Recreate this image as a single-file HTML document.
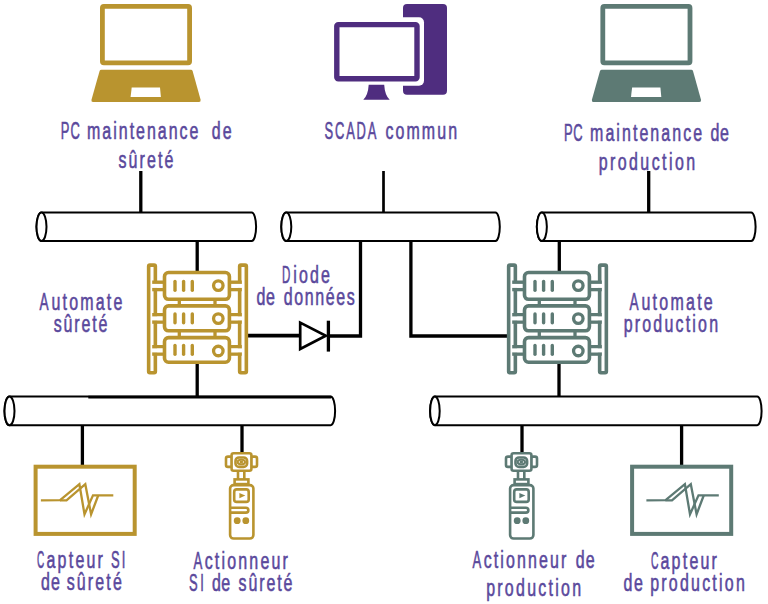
<!DOCTYPE html>
<html><head><meta charset="utf-8">
<style>
html,body{margin:0;padding:0;background:#fff;}
body{width:768px;height:604px;overflow:hidden;}
svg{display:block;}
text{font-family:"Liberation Sans",sans-serif;font-size:23.5px;fill:#5a489c;stroke:#5a489c;stroke-width:0.6px;}
</style></head><body>
<svg width="768" height="604" viewBox="0 0 768 604">
<rect width="768" height="604" fill="#fff"/>
<defs>
<g id="laptop">
  <rect x="102.4" y="6.4" width="87.2" height="56.4" rx="1.5" fill="none" stroke-width="4.8"/>
  <path d="M101.5 69.8 L191 69.8 Q192.2 69.8 192.6 71 L200.6 99.8 Q201 102 199 102 L93 102 Q91 102 91.5 99.8 L99.6 71 Q100 69.8 101.5 69.8 Z" stroke="none"/>
  <path d="M131.7 87.4 L160 87.4 L160.9 96.9 L130.6 96.9 Z" fill="#fff" stroke="none"/>
</g>

<g id="server">
  <g fill="none" stroke-width="3.6">
    <rect x="148.65" y="265.1" width="6.7" height="107.7" rx="1.2"/>
    <rect x="239.65" y="265.1" width="6.7" height="107.7" rx="1.2"/>
    <!-- left connectors -->
    <rect x="154" y="282.3" width="11" height="7.2"/>
    <rect x="154" y="314.8" width="11" height="7.2"/>
    <rect x="154" y="346.8" width="11" height="7.2"/>
    <!-- right connectors -->
    <rect x="229" y="282.3" width="11" height="7.2"/>
    <rect x="229" y="314.8" width="11" height="7.2"/>
    <rect x="229" y="346.8" width="11" height="7.2"/>
  </g>
  <g fill="#fff" stroke="none">
    <rect x="152" y="283.9" width="12" height="4"/>
    <rect x="152" y="316.4" width="12" height="4"/>
    <rect x="152" y="348.4" width="12" height="4"/>
    <rect x="231" y="283.9" width="12.9" height="4"/>
    <rect x="231" y="316.4" width="12.9" height="4"/>
    <rect x="231" y="348.4" width="12.9" height="4"/>
  </g>
  <g fill="#fff" stroke-width="3.6">
    <rect x="164.5" y="272.5" width="64.9" height="26.8" rx="4"/>
    <rect x="164.5" y="305.9" width="64.9" height="24.9" rx="4"/>
    <rect x="164.5" y="337.6" width="64.9" height="24.6" rx="4"/>
  </g>
  <g stroke-width="3.3" fill="none">
    <line x1="179.3" y1="300.5" x2="179.3" y2="305"/>
    <line x1="215" y1="300.5" x2="215" y2="305"/>
    <line x1="179.3" y1="332" x2="179.3" y2="336.6"/>
    <line x1="215" y1="332" x2="215" y2="336.6"/>
  </g>
  <g stroke-width="3.4" stroke-linecap="round" fill="none">
    <line x1="175" y1="281.5" x2="175" y2="290.3"/>
    <line x1="183.6" y1="281.5" x2="183.6" y2="290.3"/>
    <line x1="192.3" y1="281.5" x2="192.3" y2="290.3"/>
    <line x1="175" y1="313.9" x2="175" y2="322.7"/>
    <line x1="183.6" y1="313.9" x2="183.6" y2="322.7"/>
    <line x1="192.3" y1="313.9" x2="192.3" y2="322.7"/>
    <line x1="175" y1="345.5" x2="175" y2="354.3"/>
    <line x1="183.6" y1="345.5" x2="183.6" y2="354.3"/>
    <line x1="192.3" y1="345.5" x2="192.3" y2="354.3"/>
    <circle cx="218.3" cy="285.6" r="4.75" stroke-width="3.3"/>
    <circle cx="218.3" cy="318.6" r="4.75" stroke-width="3.3"/>
    <circle cx="218.3" cy="351" r="4.75" stroke-width="3.3"/>
  </g>
</g>
<g id="capteur">
  <rect x="35.6" y="466.7" width="99.1" height="67.2" fill="none" stroke-width="4"/>
</g>
<g id="wave" fill="none" stroke-width="2.3" stroke-linejoin="miter">
  <polyline points="40.9,500.3 60.1,500.2 79.4,484.2 84.5,514.3 93,495.3 113.3,495.3"/>
  <polyline points="60,500.4 66.5,500.4 85.3,484.2 91.1,514.3 98.2,495.5"/>
</g>
<g id="actuator" stroke-width="2.6">
  <rect x="226" y="456.6" width="6" height="10.3" rx="2" fill="#fff"/>
  <rect x="251" y="456.6" width="6" height="10.3" rx="2" fill="#fff"/>
  <rect x="231.6" y="453.2" width="19.8" height="17.6" rx="2" fill="#fff"/>
  <rect x="235.5" y="457.5" width="11.6" height="9.4" rx="3.5" fill="none"/>
  <ellipse cx="241.3" cy="462" rx="3.7" ry="2.3" fill="none" stroke-width="2.1"/>
  <ellipse cx="241.3" cy="462" rx="1.9" ry="1.3" stroke="none"/>
  <line x1="238" y1="471" x2="238" y2="479" />
  <line x1="244.3" y1="471" x2="244.3" y2="479" />
  <rect x="234.6" y="479.4" width="13.8" height="4.7" fill="#fff"/>
  <rect x="230.1" y="485.1" width="23.3" height="53.4" rx="3.5" fill="#fff"/>
  <rect x="234.2" y="489.4" width="14.5" height="12.5" rx="2.5" fill="none"/>
  <path d="M239.4 492.9 L239.4 498.3 L245.3 495.6 Z" stroke="none"/>
  <path d="M230.1 507.7 H245.9 A2.45 2.45 0 0 1 245.9 512.6 H230.1" fill="none"/>
  <circle cx="237.2" cy="520.7" r="3.4" stroke="none"/>
  <circle cx="245.8" cy="520.7" r="3.4" stroke="none"/>
</g>

</defs>

<!-- laptops -->
<g fill="#b9942f" stroke="#b9942f"><use href="#laptop"/></g>
<g fill="#5d7a74" stroke="#5d7a74" transform="translate(500.4 0)"><use href="#laptop"/></g>

<!-- SCADA -->
<g fill="#4f2d7f">
  <rect x="403" y="4" width="44" height="90.7" rx="4"/>
  <rect x="329.5" y="17.2" width="94.5" height="68.5" rx="5" fill="#fff"/>
  <rect x="336.8" y="24.6" width="80.2" height="54.2" rx="1.5" fill="none" stroke="#4f2d7f" stroke-width="5.4"/>
  <path d="M368.7 84.7 L384.2 84.7 Q384.8 95 389.7 99.8 L363.3 99.8 Q368.1 95 368.7 84.7 Z"/>
</g>

<!-- connection lines -->
<g stroke="#000" fill="none" stroke-width="3.3">
  <line x1="140.8" y1="171" x2="140.8" y2="212"/>
  <line x1="383.5" y1="171" x2="383.5" y2="212" stroke-width="2.7"/>
  <line x1="648.7" y1="171" x2="648.7" y2="212"/>
  <line x1="197.2" y1="241" x2="197.2" y2="272"/>
  <line x1="197.2" y1="364" x2="197.2" y2="397"/>
  <line x1="559.3" y1="241" x2="559.3" y2="272"/>
  <line x1="559" y1="364" x2="559" y2="397"/>
  <polyline points="360.5,241 360.5,336 329,336"/>
  <polyline points="410.9,241 410.9,336 508,336"/>
  <line x1="248" y1="335.6" x2="299" y2="335.6" stroke-width="3.8"/>
  <line x1="82.4" y1="425" x2="82.4" y2="465"/>
  <line x1="242" y1="425" x2="242" y2="452"/>
  <line x1="522" y1="425" x2="522" y2="452"/>
  <line x1="681.6" y1="425" x2="681.6" y2="465"/>
</g>

<!-- cylinders -->
<g stroke="#000" stroke-width="2" fill="#fff">
  <path d="M41.50 212.60 L251.70 212.60 A4.40 14.20 0 0 1 251.70 241.00 L41.50 241.00 A5.00 14.20 0 0 1 41.50 212.60 Z"/>
  <ellipse cx="41.50" cy="226.80" rx="5.00" ry="14.20"/>
  <path d="M286.30 212.60 L495.40 212.60 A4.40 14.20 0 0 1 495.40 241.00 L286.30 241.00 A5.00 14.20 0 0 1 286.30 212.60 Z"/>
  <ellipse cx="286.30" cy="226.80" rx="5.00" ry="14.20"/>
  <path d="M541.85 212.60 L751.20 212.60 A4.40 14.20 0 0 1 751.20 241.00 L541.85 241.00 A5.00 14.20 0 0 1 541.85 212.60 Z"/>
  <ellipse cx="541.85" cy="226.80" rx="5.00" ry="14.20"/>
  <path d="M9.50 396.50 L330.70 396.50 A4.40 14.40 0 0 1 330.70 425.30 L9.50 425.30 A5.00 14.40 0 0 1 9.50 396.50 Z"/>
  <ellipse cx="9.50" cy="410.90" rx="5.00" ry="14.40"/>
  <line x1="88.3" y1="397.1" x2="331" y2="397.1" stroke-width="2.6"/>
  <path d="M434.90 396.60 L757.20 396.60 A4.40 14.30 0 0 1 757.20 425.20 L434.90 425.20 A4.80 14.30 0 0 1 434.90 396.60 Z"/>
  <ellipse cx="434.90" cy="410.90" rx="4.80" ry="14.30"/>
</g>

<!-- diode -->
<g stroke="#000" fill="none">
  <path d="M300.2 322.6 L300.2 349 L325.8 335.8 Z" stroke-width="2.7" stroke-linejoin="miter"/>
  <line x1="328.4" y1="320.7" x2="328.4" y2="351.6" stroke-width="3.3"/>
</g>


<!-- servers -->
<g fill="#b9942f" stroke="#b9942f"><use href="#server"/></g>
<g fill="#5d7a74" stroke="#5d7a74" transform="translate(360 0)"><use href="#server"/></g>
<!-- capteurs -->
<g fill="#b9942f" stroke="#b9942f"><use href="#capteur"/><use href="#wave"/></g>
<g fill="#5d7a74" stroke="#5d7a74" transform="translate(596.5 0)"><use href="#capteur"/></g>
<g fill="#5d7a74" stroke="#5d7a74" transform="translate(605.5 0)"><use href="#wave"/></g>
<!-- actuators -->
<g fill="#b9942f" stroke="#b9942f"><use href="#actuator"/></g>
<g fill="#5d7a74" stroke="#5d7a74" transform="translate(280 0)"><use href="#actuator"/></g>

<!-- texts -->
<text transform="translate(60.73 139.00) scale(0.550 1)" textLength="34.75" lengthAdjust="spacing">PC</text>
<text transform="translate(87.06 139.00) scale(0.680 1)" textLength="163.75" lengthAdjust="spacing">maintenance</text>
<text transform="translate(211.65 139.00) scale(0.680 1)" textLength="29.50" lengthAdjust="spacing">de</text>
<text transform="translate(118.41 167.80) scale(0.680 1)" textLength="80.88" lengthAdjust="spacing">sûreté</text>
<text transform="translate(324.51 138.80) scale(0.550 1)" textLength="94.30" lengthAdjust="spacing">SCADA</text>
<text transform="translate(385.39 138.80) scale(0.680 1)" textLength="105.41" lengthAdjust="spacing">commun</text>
<text transform="translate(563.97 140.70) scale(0.550 1)" textLength="33.88" lengthAdjust="spacing">PC</text>
<text transform="translate(590.06 140.70) scale(0.680 1)" textLength="164.74" lengthAdjust="spacing">maintenance</text>
<text transform="translate(710.43 140.70) scale(0.680 1)" textLength="26.99" lengthAdjust="spacing">de</text>
<text transform="translate(598.70 169.80) scale(0.680 1)" textLength="141.75" lengthAdjust="spacing">production</text>
<text transform="translate(281.99 282.50) scale(0.491 1)">D</text>
<text transform="translate(293.32 282.50) scale(0.680 1)" textLength="53.65" lengthAdjust="spacing">iode</text>
<text transform="translate(256.39 304.70) scale(0.680 1)" textLength="27.04" lengthAdjust="spacing">de</text>
<text transform="translate(283.66 304.70) scale(0.680 1)" textLength="104.65" lengthAdjust="spacing">données</text>
<text transform="translate(39.38 309.95) scale(0.579 1)">A</text>
<text transform="translate(51.40 309.95) scale(0.680 1)" textLength="104.43" lengthAdjust="spacing">utomate</text>
<text transform="translate(53.73 332.30) scale(0.680 1)" textLength="78.95" lengthAdjust="spacing">sûreté</text>
<text transform="translate(629.38 309.90) scale(0.579 1)">A</text>
<text transform="translate(641.40 309.90) scale(0.680 1)" textLength="104.90" lengthAdjust="spacing">utomate</text>
<text transform="translate(623.71 332.30) scale(0.680 1)" textLength="138.76" lengthAdjust="spacing">production</text>
<text transform="translate(36.94 568.40) scale(0.425 1)">C</text>
<text transform="translate(46.51 568.40) scale(0.680 1)" textLength="82.97" lengthAdjust="spacing">apteur</text>
<text transform="translate(110.93 568.40) scale(0.550 1)" textLength="26.42" lengthAdjust="spacing">SI</text>
<text transform="translate(41.09 590.30) scale(0.680 1)" textLength="27.51" lengthAdjust="spacing">de</text>
<text transform="translate(66.73 590.30) scale(0.680 1)" textLength="80.96" lengthAdjust="spacing">sûreté</text>
<text transform="translate(193.52 568.60) scale(0.562 1)">A</text>
<text transform="translate(204.64 568.60) scale(0.680 1)" textLength="122.48" lengthAdjust="spacing">ctionneur</text>
<text transform="translate(188.95 590.80) scale(0.550 1)" textLength="27.09" lengthAdjust="spacing">SI</text>
<text transform="translate(212.08 590.80) scale(0.680 1)" textLength="26.60" lengthAdjust="spacing">de</text>
<text transform="translate(238.52 590.80) scale(0.680 1)" textLength="79.26" lengthAdjust="spacing">sûreté</text>
<text transform="translate(472.52 568.40) scale(0.557 1)">A</text>
<text transform="translate(483.64 568.40) scale(0.680 1)" textLength="121.45" lengthAdjust="spacing">ctionneur</text>
<text transform="translate(575.66 568.40) scale(0.680 1)" textLength="27.77" lengthAdjust="spacing">de</text>
<text transform="translate(486.18 595.80) scale(0.680 1)" textLength="139.49" lengthAdjust="spacing">production</text>
<text transform="translate(651.05 568.70) scale(0.440 1)">C</text>
<text transform="translate(660.51 568.70) scale(0.680 1)" textLength="82.97" lengthAdjust="spacing">apteur</text>
<text transform="translate(623.39 590.70) scale(0.680 1)" textLength="28.51" lengthAdjust="spacing">de</text>
<text transform="translate(650.18 590.70) scale(0.680 1)" textLength="139.17" lengthAdjust="spacing">production</text>
</svg>
</body></html>
